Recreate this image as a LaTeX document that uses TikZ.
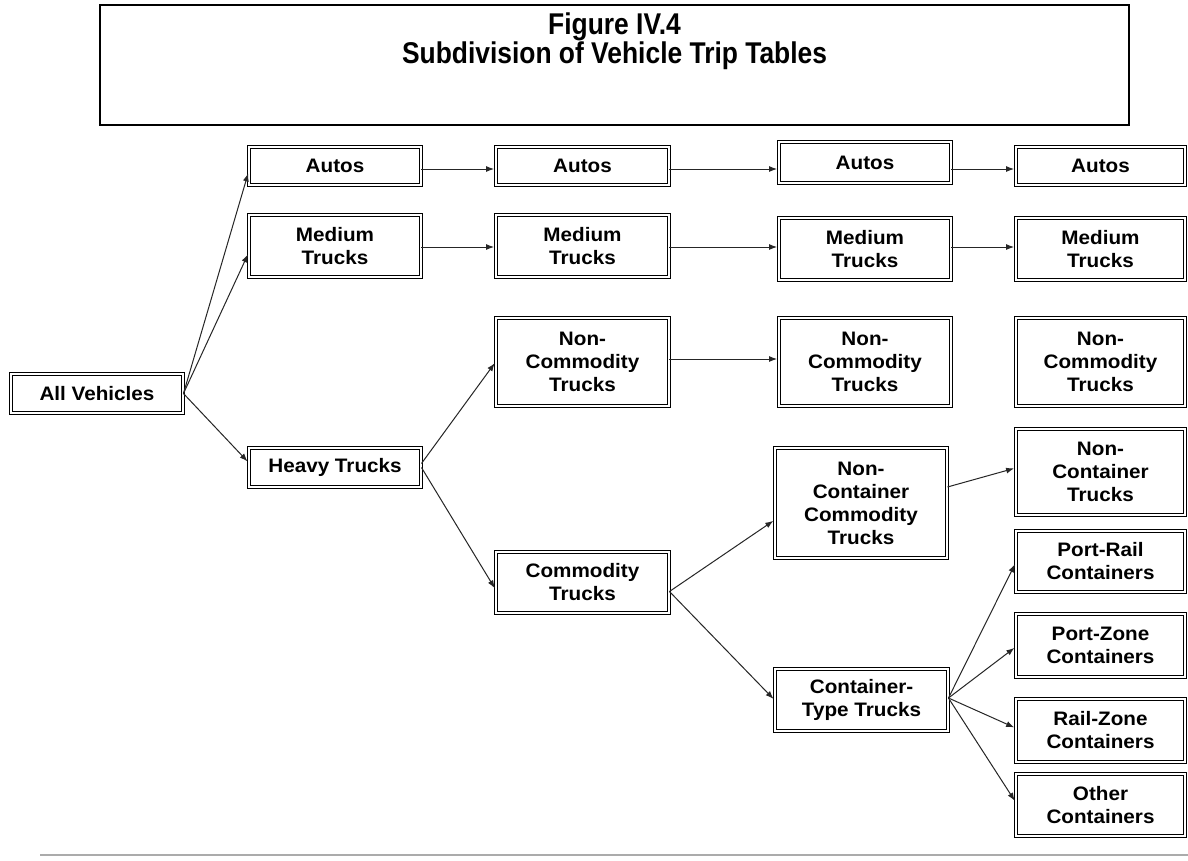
\documentclass[tikz,border=0pt]{standalone}
\usepackage{fontspec}
\usetikzlibrary{arrows.meta}
\newfontfamily\nodefont[FakeStretch=1.06]{Liberation Sans}
\newfontfamily\titlefont[FakeStretch=0.88]{Liberation Sans}
\tikzset{
  box/.style={draw=black, double=white, double distance=2pt, line width=1.1pt,
    inner sep=0pt, align=center, text=black,
    font=\nodefont\bfseries\fontsize{19.5}{23}\selectfont},
  arr/.style={-{Latex[length=8pt,width=6pt]}, line width=1pt, draw=black!85, shorten >=1.5pt},
  titlebox/.style={draw=black, line width=1.2pt, inner sep=0pt},
  titletext/.style={inner sep=0pt, align=center, text=black,
    font=\titlefont\bfseries\fontsize{30}{29}\selectfont},
  rule/.style={draw=black!33, line width=2pt}
}
\begin{document}
\begin{tikzpicture}[x=1pt,y=-1pt]
\useasboundingbox (0,0) rectangle (1188,860);
\fill[white] (0,0) rectangle (1188,860);

% title
\node[titlebox, minimum width=1029pt, minimum height=120pt] (tbox) at (614.5,65) {};
\node[titletext] (title) at (614.5,41) {Figure IV.4\\Subdivision of Vehicle Trip Tables};

% nodes
\node[box, minimum width=171.8pt, minimum height=38.8pt] (all) at (97,393.5) {All Vehicles};

\node[box, minimum width=171.8pt, minimum height=37.8pt] (a1) at (335,166) {Autos};
\node[box, minimum width=172.8pt, minimum height=37.8pt] (a2) at (582.5,166) {Autos};
\node[box, minimum width=171.8pt, minimum height=40.8pt] (a3) at (865,162.5) {Autos};
\node[box, minimum width=168.8pt, minimum height=37.8pt] (a4) at (1100.5,166) {Autos};

\node[box, minimum width=171.8pt, minimum height=61.8pt] (m1) at (335,246) {Medium\\Trucks};
\node[box, minimum width=172.8pt, minimum height=61.8pt] (m2) at (582.5,246) {Medium\\Trucks};
\node[box, minimum width=171.8pt, minimum height=61.8pt] (m3) at (865,249) {Medium\\Trucks};
\node[box, minimum width=168.8pt, minimum height=61.8pt] (m4) at (1100.5,249) {Medium\\Trucks};

\node[box, minimum width=172.8pt, minimum height=87.8pt] (n1) at (582.5,362) {Non-\\Commodity\\Trucks};
\node[box, minimum width=171.8pt, minimum height=87.8pt] (n2) at (865,362) {Non-\\Commodity\\Trucks};
\node[box, minimum width=168.8pt, minimum height=87.8pt] (n3) at (1100.5,362) {Non-\\Commodity\\Trucks};

\node[box, minimum width=171.8pt, minimum height=38.8pt] (h) at (335,467.5) {Heavy Trucks};
\node[box, minimum width=172.8pt, minimum height=60.8pt] (c) at (582.5,582.5) {Commodity\\Trucks};
\node[box, minimum width=171.8pt, minimum height=109.8pt] (ncc) at (861,503) {Non-\\Container\\Commodity\\Trucks};
\node[box, minimum width=168.8pt, minimum height=85.8pt] (nc) at (1100.5,472) {Non-\\Container\\Trucks};
\node[box, minimum width=172.8pt, minimum height=61.8pt] (ct) at (861.5,700) {Container-\\Type Trucks};

\node[box, minimum width=168.8pt, minimum height=60.8pt] (pr) at (1100.5,561.5) {Port-Rail\\Containers};
\node[box, minimum width=168.8pt, minimum height=62.8pt] (pz) at (1100.5,645.5) {Port-Zone\\Containers};
\node[box, minimum width=168.8pt, minimum height=62.8pt] (rz) at (1100.5,730.5) {Rail-Zone\\Containers};
\node[box, minimum width=168.8pt, minimum height=61.8pt] (oc) at (1100.5,805) {Other\\Containers};

% connectors
\draw[arr] (all.east) -- ([yshift=-6pt]a1.west);
\draw[arr] (all.east) -- ([yshift=-7pt]m1.west);
\draw[arr] (all.east) -- ([yshift=5pt]h.west);

\draw[arr] ([yshift=-3pt]a1.east) -- ([yshift=-3pt]a2.west);
\draw[arr] ([yshift=-3pt]a2.east) -- ([yshift=-6.5pt]a3.west);
\draw[arr] ([yshift=-6.5pt]a3.east) -- ([yshift=-3pt]a4.west);

\draw[arr] ([yshift=-1pt]m1.east) -- ([yshift=-1pt]m2.west);
\draw[arr] ([yshift=-1pt]m2.east) -- ([yshift=2pt]m3.west);
\draw[arr] ([yshift=2pt]m3.east) -- ([yshift=2pt]m4.west);

\draw[arr] ([yshift=3pt]n1.east) -- ([yshift=3pt]n2.west);

\draw[arr] ([yshift=4pt]h.east) -- (n1.west);
\draw[arr] (h.east) -- ([yshift=-7pt]c.west);

\draw[arr] ([yshift=-9pt]c.east) -- ([yshift=-17pt]ncc.west);
\draw[arr] ([yshift=-9pt]c.east) -- (ct.west);

\draw[arr] ([yshift=16pt]ncc.east) -- ([yshift=4pt]nc.west);

\draw[arr] ([yshift=2pt]ct.east) -- ([yshift=-1.5pt]pr.west);
\draw[arr] ([yshift=2pt]ct.east) -- ([yshift=-1.5pt]pz.west);
\draw[arr] ([yshift=2pt]ct.east) -- ([yshift=2.5pt]rz.west);
\draw[arr] ([yshift=2pt]ct.east) -- ([yshift=3pt]oc.west);

% bottom rule
\coordinate (ruleL) at (40,855);
\coordinate (ruleR) at (1188,855);
\draw[rule] (ruleL) -- (ruleR);
\end{tikzpicture}
\end{document}
